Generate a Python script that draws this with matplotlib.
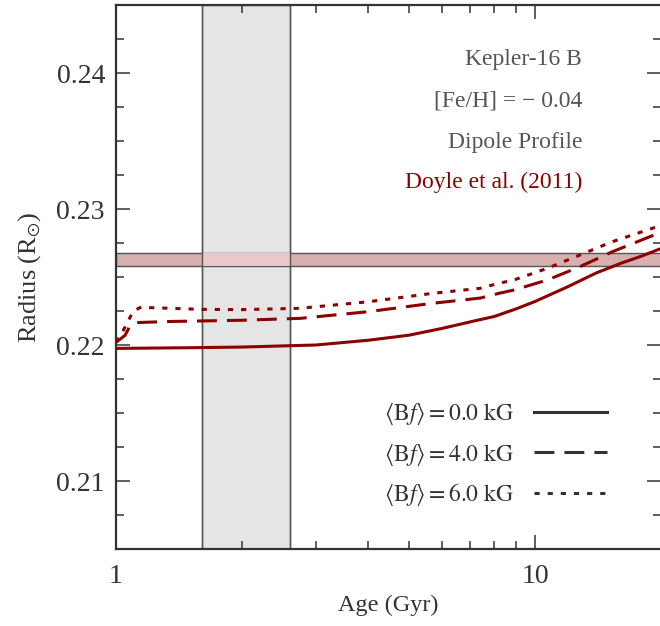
import numpy as np
import matplotlib.pyplot as plt
from matplotlib.patches import Rectangle

plt.rcParams['font.family'] = ['Liberation Serif', 'DejaVu Serif']
plt.rcParams['mathtext.fontset'] = 'stix'

# Kepler-16 B radius tracks, dipole magnetic field profile
age_0 = [1.0, 1.5, 2.0, 3.0, 4.0, 5.0, 6.0, 7.0, 8.0, 9.0, 10.0, 12.0, 14.0, 16.0, 18.0, 20.0]
rad_0 = [0.21975, 0.21980, 0.21985, 0.22000, 0.22035, 0.22072, 0.22122, 0.22170, 0.22210,
         0.22265, 0.22320, 0.22430, 0.22530, 0.22600, 0.22655, 0.22710]

age_4 = [1.0, 1.03, 1.05, 1.08, 1.12, 1.35, 2.0, 2.75, 4.0, 5.7, 7.4, 8.2, 8.9, 10.7, 12.8, 15.3, 20.0]
rad_4 = [0.22020, 0.22050, 0.22070, 0.22140, 0.22165, 0.22173, 0.22182, 0.22196, 0.22245,
         0.22307, 0.22345, 0.22380, 0.22404, 0.22478, 0.22576, 0.22686, 0.22830]

age_6 = [1.0, 1.03, 1.07, 1.1, 1.15, 1.2, 1.6, 2.0, 2.75, 4.0, 5.7, 7.4, 8.2, 8.9, 10.7, 12.8, 15.3, 20.0]
rad_6 = [0.22020, 0.22080, 0.22180, 0.22250, 0.22280, 0.22275, 0.22262, 0.22260, 0.22270,
         0.22318, 0.22380, 0.22417, 0.22454, 0.22478, 0.22564, 0.22662, 0.22760, 0.22880]

# observed radius (Doyle et al. 2011) and age window
r_obs_lo, r_obs_hi = 0.22580, 0.22680
age_lo, age_hi = 1.6, 2.6

red = '#8b0000'
ink = '#333333'

fig = plt.figure(figsize=(6.6, 6.26), dpi=100)
ax = fig.add_axes([0.1758, 0.123, 0.826, 0.869])

ax.axvspan(age_lo, age_hi, facecolor='#e5e5e5', edgecolor='#555555', lw=1.0, zorder=1)
ax.axhspan(r_obs_lo, r_obs_hi, facecolor='#d6afaf', edgecolor='#555555', lw=1.0, zorder=1.1)
ax.add_patch(Rectangle((age_lo, r_obs_lo), age_hi - age_lo, r_obs_hi - r_obs_lo,
                       facecolor='#e8c8ca', edgecolor='none', zorder=1.2))
ax.axvline(age_lo, color='#555555', lw=1.0, zorder=1.3)
ax.axvline(age_hi, color='#555555', lw=1.0, zorder=1.3)

lw = 2.2
ax.plot(age_0, rad_0, color=red, lw=lw, label=r'$\langle \mathrm{B}f \rangle = 0.0\ \mathrm{kG}$', zorder=3)
ax.plot(age_4, rad_4, color=red, lw=lw, dashes=(6.5, 3.3),
        label=r'$\langle \mathrm{B}f \rangle = 4.0\ \mathrm{kG}$', zorder=3)
ax.plot(age_6, rad_6, color=red, lw=lw, dashes=(1.7, 2.6),
        label=r'$\langle \mathrm{B}f \rangle = 6.0\ \mathrm{kG}$', zorder=3)

ax.set_xscale('log')
ax.set_xlim(1, 20)
ax.set_ylim(0.205, 0.245)
ax.set_xticks([1, 10])
ax.set_xticklabels(['1', '10'])
ax.set_xticks([2, 3, 4, 5, 6, 7, 8, 9], minor=True)
ax.xaxis.set_minor_formatter(plt.NullFormatter())
ax.set_yticks([0.21, 0.22, 0.23, 0.24])
ax.set_yticklabels(['0.21', '0.22', '0.23', '0.24'])
ax.set_yticks(np.arange(0.2075, 0.245, 0.0025), minor=True)

ax.tick_params(which='both', direction='in', top=True, right=True, colors=ink,
               labelsize=20, width=1.1)
ax.tick_params(which='major', length=10)
ax.tick_params(which='minor', length=5.5)
ax.tick_params(axis='y', pad=8)
ax.tick_params(axis='x', pad=11)
for s in ax.spines.values():
    s.set_color(ink)
    s.set_linewidth(1.6)

ax.set_xlabel('Age (Gyr)', fontsize=17.5, color=ink, labelpad=4)
ax.set_ylabel(r'Radius (R$_{\odot}$)', fontsize=19, color=ink, labelpad=10)

grey = '#555555'
ax.text(0.855, 0.899, 'Kepler-16 B', transform=ax.transAxes, ha='right', va='center', fontsize=17, color=grey)
ax.text(0.855, 0.8235, '[Fe/H] = \u2212 0.04', transform=ax.transAxes, ha='right', va='center', fontsize=17, color=grey)
ax.text(0.855, 0.748, 'Dipole Profile', transform=ax.transAxes, ha='right', va='center', fontsize=17, color=grey)
ax.text(0.855, 0.673, 'Doyle et al. (2011)', transform=ax.transAxes, ha='right', va='center', fontsize=17, color=red)

leg = ax.legend(loc='lower right', bbox_to_anchor=(0.94, 0.036), frameon=False, fontsize=17,
                markerfirst=False, handlelength=3.1, handletextpad=0.85, labelspacing=0.6)
for t in leg.get_texts():
    t.set_color(ink)
for h in leg.get_lines():
    h.set_color(ink)

fig.savefig('out.png', dpi=100)
